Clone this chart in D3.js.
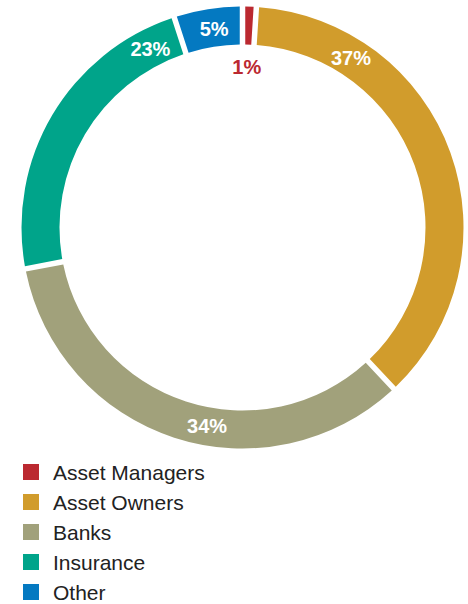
<!DOCTYPE html>
<html>
<head>
<meta charset="utf-8">
<script src="https://cdn.jsdelivr.net/npm/d3@7"></script>
<style>
  html, body { margin: 0; padding: 0; background: #fff; }
  svg { display: block; }
</style>
</head>
<body>
<svg id="chart" width="468" height="604"></svg>
<script>
const categories = ["Asset Managers", "Asset Owners", "Banks", "Insurance", "Other"];
const values = [1, 37, 34, 23, 5];
const labels = ["1%", "37%", "34%", "23%", "5%"];
const colors = ["#bb2930", "#d19c2c", "#a1a17b", "#00a48a", "#0479c1"];
// where along each slice the label sits (fraction of the slice's angular span)
const labelFrac = [0.42, 0.218, 0.436, 0.888, 0.55];
const labelInside = [true, false, false, false, false];

const svg = d3.select("#chart");
const cx = 242.5, cy = 227.5;
const R = 221, r = 183;

const pie = d3.pie().sort(null).value(d => d)(values);
const arc = d3.arc().innerRadius(r).outerRadius(R).padRadius(R).padAngle(5.5 / R);

const g = svg.append("g").attr("transform", `translate(${cx},${cy})`);
g.selectAll("path").data(pie).join("path")
  .attr("d", arc)
  .attr("fill", (d, i) => colors[i]);

g.selectAll("text").data(pie).join("text")
  .attr("transform", (d, i) => {
    const a = d.startAngle + (d.endAngle - d.startAngle) * labelFrac[i];
    const rr = labelInside[i] ? 161 : 201;
    return `translate(${rr * Math.sin(a)},${-rr * Math.cos(a)})`;
  })
  .attr("text-anchor", "middle")
  .attr("dy", "0.36em")
  .attr("font-family", "Liberation Sans, Arial, sans-serif")
  .attr("font-weight", "bold")
  .attr("font-size", 20)
  .attr("fill", (d, i) => labelInside[i] ? colors[i] : "#ffffff")
  .text((d, i) => labels[i]);

const ly = d3.scalePoint().domain(categories).range([472, 592]);
const leg = svg.append("g").selectAll("g").data(categories).join("g")
  .attr("transform", d => `translate(23,${ly(d)})`);
leg.append("rect").attr("x", 0).attr("y", -8).attr("width", 16).attr("height", 16)
  .attr("fill", (d, i) => colors[i]);
leg.append("text").attr("x", 30).attr("y", 7.5)
  .attr("font-family", "Liberation Sans, Arial, sans-serif")
  .attr("font-size", 21)
  .attr("fill", "#222")
  .text(d => d);
</script>
</body>
</html>
